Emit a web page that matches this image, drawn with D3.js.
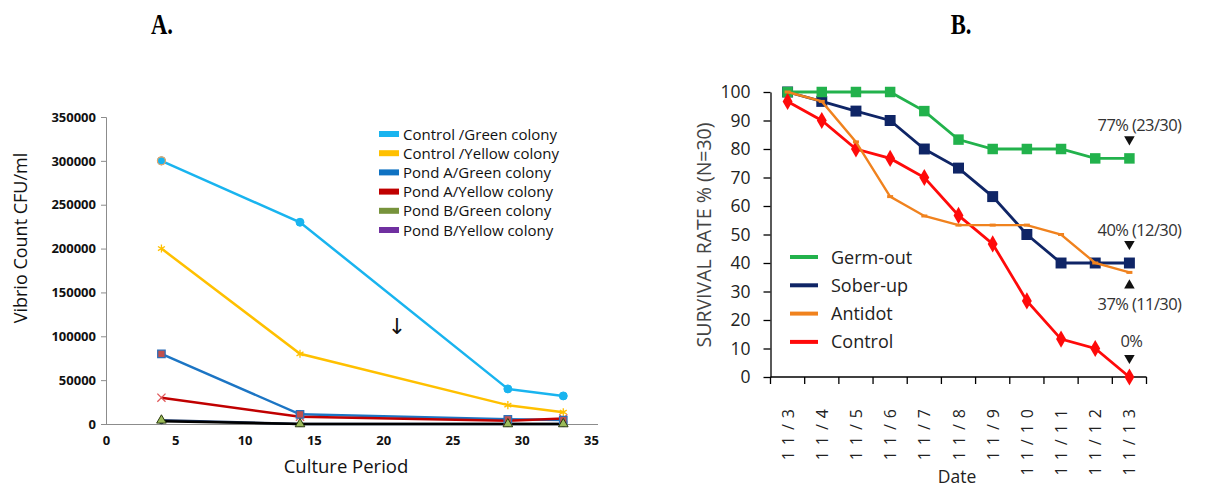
<!DOCTYPE html>
<html>
<head>
<meta charset="utf-8">
<script src="https://cdn.jsdelivr.net/npm/d3@7"></script>
<style>
  body { margin: 0; background: #fff; }
  svg { display: block; }
</style>
</head>
<body>
<div id="chart"></div>
<script>
// ---- panel A data ----
var periodDays = [4, 14, 29, 33];
var seriesA = ['Control /Green colony', 'Control /Yellow colony', 'Pond A/Green colony',
               'Pond A/Yellow colony', 'Pond B/Green colony', 'Pond B/Yellow colony'];
var controlGreen = [300000, 230000, 40000, 32000];
var controlYellow = [200000, 80000, 21500, 13500];
var pondAGreen = [80000, 11000, 5300, 4500];
var pondAYellow = [30000, 8300, 3800, 6300];
var pondBGreen = [4200, 0, 0, 0];
var pondBYellow = [3200, 0, 0, 0];
var yTicksA = [0, 50000, 100000, 150000, 200000, 250000, 300000, 350000];
var xTicksA = [0, 5, 10, 15, 20, 25, 30, 35];

// ---- panel B data ----
var dates = ['11/3', '11/4', '11/5', '11/6', '11/7', '11/8', '11/9', '11/10', '11/11', '11/12', '11/13'];
var seriesB = ['Germ-out', 'Sober-up', 'Antidot', 'Control'];
var germOut = [100, 100, 100, 100, 93.3, 83.3, 80, 80, 80, 76.7, 76.7];
var soberUp = [100, 96.7, 93.3, 90, 80, 73.3, 63.3, 50, 40, 40, 40];
var antidot = [100, 96.7, 82.5, 63.3, 56.5, 53.3, 53.3, 53.3, 50, 40, 36.7];
var controlB = [96.7, 90, 80, 76.7, 70, 56.7, 46.7, 26.7, 13.3, 10, 0];
var yTicksB = [0, 10, 20, 30, 40, 50, 60, 70, 80, 90, 100];
var notes = ['77% (23/30)', '40% (12/30)', '37% (11/30)', '0%'];

var svg = d3.select('#chart').append('svg')
  .attr('width', 1210)
  .attr('height', 487);

// panel titles (condensed bold serif)
[['A.', 162], ['B.', 961]].forEach(function(t) {
  svg.append('text')
    .attr('transform', 'translate(' + t[1] + ',34) scale(0.78,1)')
    .attr('text-anchor', 'middle')
    .style('font-family', 'Liberation Serif').style('font-weight', 'bold').style('font-size', '29px')
    .text(t[0]);
});

// ================= panel A =================
var xA = d3.scaleLinear().domain([0, 35]).range([106, 591]);
var yA = d3.scaleLinear().domain([0, 350000]).range([424, 117]);

var gA = svg.append('g');

// y axis
var yAxisA = gA.append('g')
  .attr('transform', 'translate(106,0)')
  .call(d3.axisLeft(yA).tickValues(yTicksA).tickSize(5).tickPadding(5).tickFormat(d3.format('d')));
yAxisA.select('.domain').attr('stroke', '#8c8c8c');
yAxisA.selectAll('.tick line').attr('stroke', '#8c8c8c');
yAxisA.selectAll('.tick text')
  .style('font-family', 'Open Sans').style('font-weight', 'bold').style('font-size', '13px').attr('fill', '#111');

// x axis
var xAxisA = gA.append('g')
  .attr('transform', 'translate(0,424)')
  .call(d3.axisBottom(xA).tickValues(xTicksA).tickSize(0).tickPadding(12).tickSizeOuter(0));
xAxisA.select('.domain').attr('stroke', '#8c8c8c').attr('d', 'M106,0.5H598');
xAxisA.selectAll('.tick text')
  .style('font-family', 'Open Sans').style('font-weight', 'bold').style('font-size', '13px').attr('fill', '#111');

gA.append('text')
  .attr('transform', 'translate(27,238) rotate(-90)')
  .attr('text-anchor', 'middle')
  .style('font-family', 'Open Sans').style('font-size', '18px').attr('fill', '#111')
  .text('Vibrio Count CFU/ml');
gA.append('text')
  .attr('x', 346).attr('y', 473)
  .attr('text-anchor', 'middle')
  .style('font-family', 'Open Sans').style('font-size', '18.5px').attr('fill', '#111')
  .text('Culture Period');

var valuesA = [controlGreen, controlYellow, pondAGreen, pondAYellow, pondBGreen, pondBYellow];
var legendColorsA = ['#19b4ef', '#ffc000', '#0f72c2', '#c00000', '#77933c', '#7030a0'];
var lineColorsA = ['#19b4ef', '#ffc000', '#1c75c4', '#c00000', '#1f3864', '#000000'];

var lineA = d3.line()
  .x(function(d, i) { return xA(periodDays[i]); })
  .y(function(d) { return yA(d); });

valuesA.forEach(function(vals, s) {
  gA.append('path')
    .datum(vals)
    .attr('fill', 'none')
    .attr('stroke', lineColorsA[s])
    .attr('stroke-width', 2.5)
    .attr('d', lineA);
});

var symX = d3.symbolX || d3.symbolCross;
var symStar = d3.symbolAsterisk || d3.symbolCross;

function markerA(s, vals, type, size, fill, stroke, sw) {
  gA.selectAll('.mk' + s)
    .data(vals)
    .enter()
    .append('path')
    .attr('transform', function(d, i) { return 'translate(' + xA(periodDays[i]) + ',' + yA(d) + ')'; })
    .attr('d', d3.symbol().type(type).size(size))
    .attr('fill', fill)
    .attr('stroke', stroke)
    .attr('stroke-width', sw);
}
markerA(0, controlGreen, d3.symbolCircle, 50, '#19b4ef', '#19b4ef', 1);
gA.append('circle').attr('cx', xA(periodDays[0])).attr('cy', yA(controlGreen[0])).attr('r', 4)
  .attr('fill', '#19b4ef').attr('stroke', '#f4a460').attr('stroke-width', 1.2);
markerA(1, controlYellow, symStar, 45, 'none', '#ffc000', 1.3);
markerA(3, pondAYellow, symX, 45, 'none', '#e0585a', 1.3);
markerA(2, pondAGreen, d3.symbolSquare, 55, '#c0504d', '#2f6fb8', 1.3);
markerA(5, pondBYellow, d3.symbolCircle, 20, '#1f3864', '#1f3864', 1);
markerA(4, pondBGreen, d3.symbolTriangle, 40, '#9bbb59', '#2b3a10', 1);

// arrow
gA.append('text')
  .attr('x', 397).attr('y', 334).attr('text-anchor', 'middle')
  .style('font-family', 'DejaVu Sans').style('font-size', '22px').attr('fill', '#111')
  .text('\u2193');

// legend A
var legA = gA.append('g').selectAll('g')
  .data(seriesA)
  .enter()
  .append('g')
  .attr('transform', function(d, i) { return 'translate(379,' + (134 + i * 19.2) + ')'; });
legA.append('rect')
  .attr('x', 0).attr('y', -3).attr('width', 20).attr('height', 6)
  .attr('fill', function(d, i) { return legendColorsA[i]; });
legA.append('text')
  .attr('x', 24).attr('y', 5.5)
  .style('font-family', 'Open Sans').style('font-size', '15px').attr('fill', '#111')
  .text(function(d) { return d; });

// ================= panel B =================
var xB = d3.scaleBand().domain(dates).range([770.5, 1146.5]).padding(0);
var yB = d3.scaleLinear().domain([0, 100]).range([377, 92]);
var gB = svg.append('g');

var yAxisB = gB.append('g')
  .attr('transform', 'translate(770.5,0)')
  .call(d3.axisLeft(yB).tickValues(yTicksB).tickSize(7).tickPadding(13).tickSizeOuter(0));
yAxisB.selectAll('line, path').attr('stroke', '#000').attr('stroke-width', 1.3);
yAxisB.selectAll('.tick text')
  .style('font-family', 'Open Sans').style('font-size', '17.5px').attr('fill', '#222');

var xAxisB = gB.append('g').attr('transform', 'translate(0,377)');
xAxisB.append('line').attr('x1', 770.5).attr('x2', 1146.5).attr('y1', 0).attr('y2', 0)
  .attr('stroke', '#000').attr('stroke-width', 1.3);
var bounds = dates.map(function(d) { return xB(d); }).concat([xB(dates[dates.length - 1]) + xB.bandwidth()]);
xAxisB.selectAll('.tk').data(bounds).enter().append('line')
  .attr('x1', function(d) { return d; }).attr('x2', function(d) { return d; })
  .attr('y1', 0).attr('y2', 7)
  .attr('stroke', '#000').attr('stroke-width', 1.3);
xAxisB.selectAll('.lbl').data(dates).enter().append('text')
  .attr('transform', function(d) { return 'translate(' + (xB(d) + xB.bandwidth() / 2 + 6) + ',26) rotate(-90)'; })
  .attr('text-anchor', 'end')
  .style('font-family', 'Open Sans').style('font-size', '16px').style('letter-spacing', '6px')
  .attr('fill', '#222')
  .text(function(d) { return d; });

gB.append('text')
  .attr('transform', 'translate(711,235) rotate(-90)')
  .attr('text-anchor', 'middle')
  .style('font-family', 'Open Sans').style('font-size', '19.5px').attr('fill', '#444')
  .text('SURVIVAL RATE % (N=30)');
gB.append('text')
  .attr('x', 957).attr('y', 483).attr('text-anchor', 'middle')
  .style('font-family', 'Open Sans').style('font-size', '17.5px').attr('fill', '#222')
  .text('Date');

var valuesB = [germOut, soberUp, antidot, controlB];
var colorsB = ['#22b24c', '#0f2566', '#f0821e', '#ff0a0a'];
var lineB = d3.line()
  .x(function(d, i) { return xB(dates[i]) + xB.bandwidth() / 2; })
  .y(function(d) { return yB(d); });

function markersB(vals, type, size, color) {
  gB.append('g').selectAll('path')
    .data(vals)
    .enter()
    .append('path')
    .attr('transform', function(d, i) { return 'translate(' + (xB(dates[i]) + xB.bandwidth() / 2) + ',' + yB(d) + ')'; })
    .attr('d', d3.symbol().type(type).size(size))
    .attr('fill', color);
}

// draw order: sober-up, germ-out, control, antidot
[1, 0, 3, 2].forEach(function(s) {
  gB.append('path')
    .datum(valuesB[s])
    .attr('fill', 'none')
    .attr('stroke', colorsB[s])
    .attr('stroke-width', s === 2 ? 2.4 : 2.8)
    .attr('d', lineB);
  if (s === 0) markersB(germOut, d3.symbolSquare, 110, colorsB[0]);
  if (s === 1) markersB(soberUp, d3.symbolSquare, 120, colorsB[1]);
  if (s === 3) markersB(controlB, d3.symbolDiamond, 85, colorsB[3]);
  if (s === 2) {
    gB.append('g').selectAll('line').data(antidot).enter().append('line')
      .attr('x1', function(d, i) { return xB(dates[i]) + xB.bandwidth() / 2 - 3; })
      .attr('x2', function(d, i) { return xB(dates[i]) + xB.bandwidth() / 2 + 3; })
      .attr('y1', function(d) { return yB(d); })
      .attr('y2', function(d) { return yB(d); })
      .attr('stroke', colorsB[2]).attr('stroke-width', 3);
  }
});

// legend B
var legB = gB.append('g').selectAll('g')
  .data(seriesB)
  .enter()
  .append('g')
  .attr('transform', function(d, i) { return 'translate(790,' + (257 + i * 28.3) + ')'; });
legB.append('line')
  .attr('x1', 0).attr('x2', 28).attr('y1', 0).attr('y2', 0)
  .attr('stroke', function(d, i) { return colorsB[i]; })
  .attr('stroke-width', 4);
legB.append('text')
  .attr('x', 41).attr('y', 6.5)
  .style('font-family', 'Open Sans').style('font-size', '18px').attr('fill', '#222')
  .text(function(d) { return d; });

// annotations on the last day
var lastX = xB(dates[dates.length - 1]) + xB.bandwidth() / 2;
var noteVals = [germOut[10], soberUp[10], antidot[10], controlB[10]];
var noteDir = [-1, -1, 1, -1];
noteVals.forEach(function(v, k) {
  var yy = yB(v);
  var up = noteDir[k] > 0;
  gB.append('path')
    .attr('transform', 'translate(' + lastX + ',' + (up ? yy + 13 : yy - 19) + ') rotate(' + (up ? 0 : 180) + ')')
    .attr('d', d3.symbol().type(d3.symbolTriangle).size(48))
    .attr('fill', '#111');
  gB.append('text')
    .attr('x', k === 3 ? lastX + 2 : lastX + 10)
    .attr('y', up ? yy + 38 : yy - (k === 3 ? 30 : 27))
    .attr('text-anchor', 'middle')
    .style('font-family', 'Open Sans').style('font-size', '16.5px').style('letter-spacing', '-0.6px')
    .attr('fill', '#333')
    .text(notes[k]);
});
</script>
</body>
</html>
